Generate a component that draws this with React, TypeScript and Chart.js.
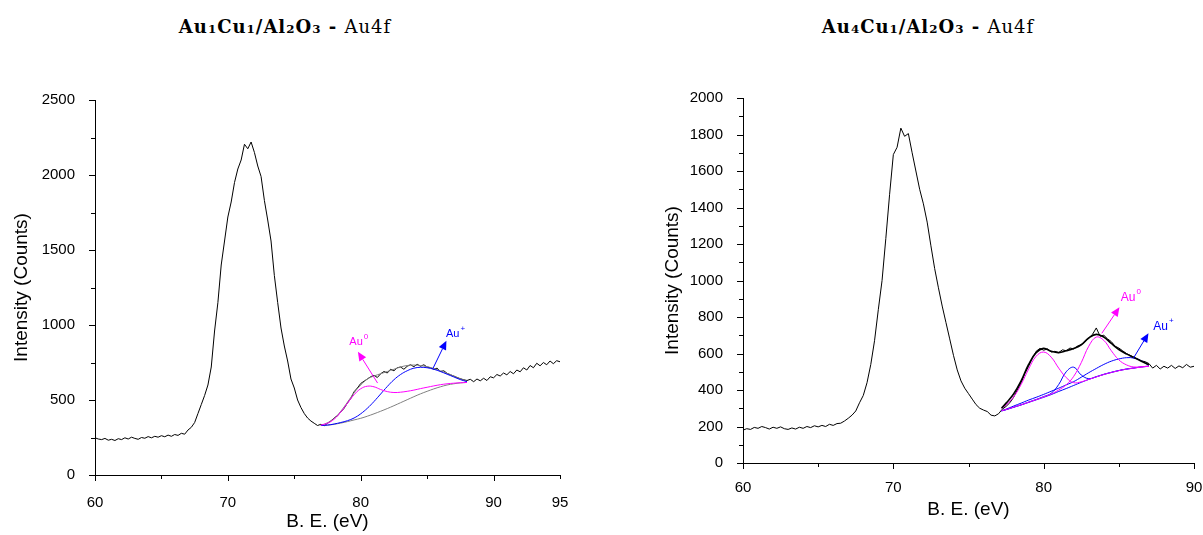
import React, { useEffect, useRef } from "react";
import { Chart, registerables } from "chart.js";

Chart.register(...registerables);
Chart.defaults.font.family = '"Liberation Sans", Arial, sans-serif';
Chart.defaults.color = "#000";

// ---------- Left panel: Au1Cu1/Al2O3 - Au4f ----------
const LEFT_START = 60;
const SPECTRUM_STEP = 0.25;
const LEFT_SPECTRUM = [
  248, 240, 236, 244,
  232, 238, 230, 242,
  236, 248, 240, 252,
  244, 238, 250, 245,
  256, 248, 258, 252,
  262, 255, 266, 258,
  270, 264, 278, 272,
  300, 318, 350, 410,
  470, 530, 600, 720,
  960, 1150, 1400, 1560,
  1720, 1820, 1950, 2040,
  2100, 2205, 2175, 2220,
  2150, 2060, 1990, 1830,
  1700, 1560, 1330, 1150,
  980, 860, 760, 640,
  580, 500, 450, 410,
  380, 360, 345, 330,
  338, 328, 345, 360,
  380, 395, 420, 445,
  480, 510, 555, 580,
  610, 625, 640, 655,
  665, 650, 675, 690,
  680, 705, 695, 715,
  720, 705, 725, 735,
  722, 738, 725, 735,
  720, 715, 705, 712,
  690, 695, 678, 668,
  660, 650, 642, 635,
  630, 638, 622, 640,
  628, 645, 630, 655,
  648, 670, 660, 680,
  668, 690, 675, 700,
  688, 715, 700, 730,
  715, 745, 728, 750,
  735, 760, 742, 762,
  755,
];
const LEFT_FIT_X = [77, 77.5, 78, 78.5, 79, 79.5, 80, 80.5, 81, 81.5, 82, 82.5, 83, 83.5, 84, 84.5, 85, 85.5, 86, 86.5, 87, 87.5, 88];
const LEFT_BASELINE = [330, 332, 338, 346, 356, 367, 378, 392, 408, 425, 443, 462, 482, 502, 522, 541, 558, 574, 588, 600, 608, 614, 617];
const LEFT_AU0 = [332, 345, 372, 420, 478, 535, 575, 592, 588, 570, 556, 550, 552, 558, 566, 576, 585, 594, 602, 608, 612, 615, 617];
const LEFT_AUPLUS = [330, 333, 340, 350, 362, 380, 408, 445, 490, 540, 590, 635, 670, 695, 712, 718, 715, 705, 690, 672, 654, 636, 622];
const LEFT_ENVELOPE = [332, 348, 378, 425, 485, 548, 600, 640, 660, 675, 690, 705, 720, 730, 733, 730, 722, 710, 695, 678, 660, 640, 625];

// ---------- Right panel: Au4Cu1/Al2O3 - Au4f ----------
const RIGHT_START = 60;
const RIGHT_SPECTRUM = [
  180, 188, 184, 195,
  190, 200, 194, 186,
  196, 190, 198, 188,
  184, 192, 186, 196,
  190, 200, 194, 204,
  198, 206, 200, 212,
  206, 216, 218, 230,
  245, 262, 285, 330,
  370, 440, 540, 670,
  840, 1000, 1230, 1470,
  1690, 1730, 1835, 1790,
  1805, 1700, 1600, 1500,
  1420, 1320, 1190, 1065,
  960, 860, 770, 680,
  590, 510, 450, 410,
  380, 350, 320, 300,
  290, 282, 262, 258,
  270, 295, 310, 330,
  360, 400, 440, 490,
  530, 575, 612, 628,
  618, 625, 608, 612,
  605, 620, 615, 630,
  625, 640, 648, 665,
  685, 705, 740, 695,
  700, 680, 665, 640,
  630, 615, 600, 590,
  580, 570, 560, 555,
  545, 520, 535, 515,
  530, 520, 535, 518,
  532, 522, 540, 525,
  530,
];
const RIGHT_FIT_X = [77.2, 77.5, 78, 78.5, 79, 79.5, 80, 80.5, 81, 81.5, 82, 82.5, 83, 83.5, 84, 84.5, 85, 85.5, 86, 86.5, 87];
const RIGHT_BASELINE = [285, 292, 305, 318, 332, 346, 360, 375, 392, 408, 425, 442, 458, 472, 485, 496, 506, 514, 520, 526, 530];
const RIGHT_AU0_A = [300, 318, 362, 430, 515, 585, 608, 580, 520, 468, 440, 445, 458, 472, 485, 496, 506, 514, 520, 526, 530];
const RIGHT_AU0_B = [286, 293, 306, 319, 333, 347, 362, 378, 400, 428, 475, 550, 640, 690, 672, 615, 565, 538, 526, 527, 531];
const RIGHT_AUPLUS_A = [286, 293, 306, 319, 334, 348, 364, 382, 430, 500, 525, 482, 462, 473, 486, 497, 507, 515, 521, 527, 531];
const RIGHT_AUPLUS_B = [286, 295, 312, 328, 345, 360, 376, 393, 410, 428, 446, 470, 495, 518, 540, 558, 570, 577, 575, 560, 535];
const RIGHT_ENVELOPE = [300, 328, 378, 450, 540, 605, 628, 612, 605, 615, 628, 648, 685, 705, 690, 655, 622, 598, 578, 558, 538];

// ---------- Text ----------
const LEFT_TITLE = [["Au", "1"], ["Cu", "1"], ["/Al", "2"], ["O", "3"]];
const RIGHT_TITLE = [["Au", "4"], ["Cu", "1"], ["/Al", "2"], ["O", "3"]];
const TITLE_SUFFIX = "Au4f";
const X_TITLE = "B. E. (eV)";
const Y_TITLE = "Intensity (Counts)";

const MAGENTA = "#ff00ff";
const BLUE = "#0000ff";
const GREY = "#808080";
const BLACK = "#000000";

type Note = { text: string; sup: string; color: string; tail: number[]; tip: number[]; label: number[]; size: number };

const LEFT_NOTES: Note[] = [
  { text: "Au", sup: "0", color: MAGENTA, tail: [81.27, 613], tip: [79.79, 822], label: [79.65, 887], size: 11 },
  { text: "Au", sup: "+", color: BLUE, tail: [85.44, 711], tip: [86.45, 895], label: [86.92, 940], size: 11 },
];
const RIGHT_NOTES: Note[] = [
  { text: "Au", sup: "0", color: MAGENTA, tail: [83.87, 711], tip: [85.04, 853], label: [85.62, 907], size: 12 },
  { text: "Au", sup: "+", color: BLUE, tail: [85.97, 574], tip: [86.97, 711], label: [87.78, 747], size: 12 },
];

const seq = (start: number, step: number, ys: number[]) =>
  ys.map((y, i) => ({ x: Math.round((start + i * step) * 100) / 100, y }));
const zip = (xs: number[], ys: number[]) => xs.map((x, i) => ({ x, y: ys[i] }));

const decorPlugin = {
  id: "decor",
  afterDatasetsDraw(chart: any, _args: any, opts: any) {
    const { ctx, chartArea: a, scales } = chart;
    const xs = scales.x;
    const ys = scales.y;
    ctx.save();
    ctx.strokeStyle = "#000";
    ctx.lineWidth = 1;
    const nx = Math.round((opts.xMax - opts.xMin) / opts.xMinor);
    const rx = Math.round(opts.xMajor / opts.xMinor);
    for (let i = 0; i <= nx; i++) {
      const v = opts.xMin + i * opts.xMinor;
      const px = Math.round(xs.getPixelForValue(v)) + 0.5;
      const len = i % rx === 0 ? 6 : 4;
      ctx.beginPath();
      ctx.moveTo(px, a.bottom);
      ctx.lineTo(px, a.bottom + len);
      ctx.stroke();
    }
    const ny = Math.round((opts.yMax - opts.yMin) / opts.yMinor);
    const ry = Math.round(opts.yMajor / opts.yMinor);
    for (let i = 0; i <= ny; i++) {
      const v = opts.yMin + i * opts.yMinor;
      const py = Math.round(ys.getPixelForValue(v)) + 0.5;
      const len = i % ry === 0 ? 6 : 4;
      ctx.beginPath();
      ctx.moveTo(a.left, py);
      ctx.lineTo(a.left - len, py);
      ctx.stroke();
    }
    for (const n of opts.notes as Note[]) {
      const x0 = xs.getPixelForValue(n.tail[0]);
      const y0 = ys.getPixelForValue(n.tail[1]);
      const x1 = xs.getPixelForValue(n.tip[0]);
      const y1 = ys.getPixelForValue(n.tip[1]);
      const ang = Math.atan2(y1 - y0, x1 - x0);
      const hl = 9;
      const hw = 4;
      const bx = x1 - hl * Math.cos(ang);
      const by = y1 - hl * Math.sin(ang);
      ctx.strokeStyle = n.color;
      ctx.fillStyle = n.color;
      ctx.lineWidth = 1;
      ctx.beginPath();
      ctx.moveTo(x0, y0);
      ctx.lineTo(bx, by);
      ctx.stroke();
      ctx.beginPath();
      ctx.moveTo(x1, y1);
      ctx.lineTo(bx + hw * Math.sin(ang), by - hw * Math.cos(ang));
      ctx.lineTo(bx - hw * Math.sin(ang), by + hw * Math.cos(ang));
      ctx.closePath();
      ctx.fill();
      const lx = xs.getPixelForValue(n.label[0]);
      const ly = ys.getPixelForValue(n.label[1]);
      ctx.font = `${n.size}px "Liberation Sans", Arial, sans-serif`;
      ctx.textBaseline = "middle";
      ctx.textAlign = "left";
      const w = ctx.measureText(n.text).width;
      ctx.fillText(n.text, lx - w / 2, ly);
      ctx.font = `${Math.round(n.size * 0.7)}px "Liberation Sans", Arial, sans-serif`;
      ctx.fillText(n.sup, lx + w / 2 + 1, ly - n.size * 0.45);
    }
    ctx.restore();
  },
};

type PanelOpts = {
  datasets: any[];
  xMin: number; xMax: number; xMajor: number; xMinor: number;
  yMin: number; yMax: number; yMajor: number; yMinor: number;
  padding: { left: number; right: number; top: number; bottom: number };
  yWidth: number; xHeight: number; xTickPad: number; yTickPad: number;
  notes: Note[];
};

function buildConfig(p: PanelOpts): any {
  return {
    type: "line",
    data: { datasets: p.datasets },
    options: {
      responsive: false,
      animation: false,
      events: [],
      layout: { padding: p.padding },
      elements: { point: { radius: 0 }, line: { borderWidth: 1 } },
      plugins: {
        legend: { display: false },
        tooltip: { enabled: false },
        decor: {
          xMin: p.xMin, xMax: p.xMax, xMajor: p.xMajor, xMinor: p.xMinor,
          yMin: p.yMin, yMax: p.yMax, yMajor: p.yMajor, yMinor: p.yMinor,
          notes: p.notes,
        },
      },
      scales: {
        x: {
          type: "linear",
          min: p.xMin,
          max: p.xMax,
          grid: { display: false },
          border: { display: true, color: "#000", width: 1 },
          ticks: {
            stepSize: p.xMajor,
            color: "#000",
            font: { size: 15 },
            padding: p.xTickPad,
            maxRotation: 0,
            autoSkip: false,
            callback: (v: any) => String(v),
          },
          title: { display: true, text: X_TITLE, color: "#000", font: { size: 19 }, padding: { top: 0, bottom: 2 } },
          afterFit: (s: any) => {
            s.height = p.xHeight;
            s.paddingLeft = 0;
            s.paddingRight = 0;
          },
        },
        y: {
          type: "linear",
          min: p.yMin,
          max: p.yMax,
          grid: { display: false },
          border: { display: true, color: "#000", width: 1 },
          ticks: {
            stepSize: p.yMajor,
            color: "#000",
            font: { size: 15 },
            padding: p.yTickPad,
            autoSkip: false,
            callback: (v: any) => String(v),
          },
          title: { display: true, text: Y_TITLE, color: "#000", font: { size: 19 }, padding: { top: 4, bottom: 0 } },
          afterFit: (s: any) => {
            s.width = p.yWidth;
            s.paddingTop = 0;
            s.paddingBottom = 0;
          },
        },
      },
    },
    plugins: [decorPlugin],
  };
}

const line = (data: any[], color: string, order: number, width = 1, tension = 0.4) => ({
  data,
  borderColor: color,
  backgroundColor: color,
  borderWidth: width,
  pointRadius: 0,
  tension,
  fill: false,
  order,
});

const leftConfig = () =>
  buildConfig({
    datasets: [
      line(seq(LEFT_START, SPECTRUM_STEP, LEFT_SPECTRUM), BLACK, 9, 1, 0),
      line(zip(LEFT_FIT_X, LEFT_BASELINE), GREY, 4),
      line(zip(LEFT_FIT_X, LEFT_ENVELOPE), GREY, 3),
      line(zip(LEFT_FIT_X, LEFT_AUPLUS), BLUE, 2),
      line(zip(LEFT_FIT_X, LEFT_AU0), MAGENTA, 1),
    ],
    xMin: 60, xMax: 95, xMajor: 10, xMinor: 5,
    yMin: 0, yMax: 2500, yMajor: 500, yMinor: 250,
    padding: { left: 6, right: 40, top: 100, bottom: 0 },
    yWidth: 89, xHeight: 60, xTickPad: 11, yTickPad: 12,
    notes: LEFT_NOTES,
  });

const rightConfig = () =>
  buildConfig({
    datasets: [
      line(seq(RIGHT_START, SPECTRUM_STEP, RIGHT_SPECTRUM), BLACK, 9, 1, 0),
      line(zip(RIGHT_FIT_X, RIGHT_BASELINE), BLUE, 5),
      line(zip(RIGHT_FIT_X, RIGHT_AUPLUS_A), BLUE, 4),
      line(zip(RIGHT_FIT_X, RIGHT_AUPLUS_B), BLUE, 3),
      line(zip(RIGHT_FIT_X, RIGHT_AU0_A), MAGENTA, 2),
      line(zip(RIGHT_FIT_X, RIGHT_AU0_B), MAGENTA, 1),
      line(zip(RIGHT_FIT_X, RIGHT_ENVELOPE), BLACK, 0, 1.6),
    ],
    xMin: 60, xMax: 90, xMajor: 10, xMinor: 5,
    yMin: 0, yMax: 2000, yMajor: 200, yMinor: 100,
    padding: { left: 57, right: 9, top: 98, bottom: 12 },
    yWidth: 86, xHeight: 60, xTickPad: 8, yTickPad: 12,
    notes: RIGHT_NOTES,
  });

function ChartCanvas({ make, left, width }: { make: () => any; left: number; width: number }) {
  const ref = useRef<HTMLCanvasElement>(null);
  useEffect(() => {
    const chart = new Chart(ref.current as HTMLCanvasElement, make());
    return () => chart.destroy();
  }, [make]);
  return (
    <canvas
      ref={ref}
      width={width}
      height={535}
      style={{ position: "absolute", left, top: 0, width, height: 535 }}
    />
  );
}

function Title({ parts, center }: { parts: string[][]; center: number }) {
  return (
    <div
      style={{
        position: "absolute",
        left: center - 300,
        top: 14,
        width: 600,
        textAlign: "center",
        fontFamily: '"DejaVu Serif", "Liberation Serif", serif',
        fontSize: 18,
        letterSpacing: "1px",
        lineHeight: "26px",
        color: "#000",
        whiteSpace: "nowrap",
      }}
    >
      <b>
        {parts.map(([a, s], i) => (
          <React.Fragment key={i}>
            {a}
            <span style={{ fontSize: "0.66em" }}>{s}</span>
          </React.Fragment>
        ))}
        {" - "}
      </b>
      {TITLE_SUFFIX}
    </div>
  );
}

export default function App() {
  return (
    <div
      style={{
        position: "absolute",
        left: 0,
        top: 0,
        width: 1203,
        height: 535,
        overflow: "hidden",
        background: "#fff",
      }}
    >
      <Title parts={LEFT_TITLE} center={285} />
      <Title parts={RIGHT_TITLE} center={928} />
      <ChartCanvas make={leftConfig} left={0} width={600} />
      <ChartCanvas make={rightConfig} left={600} width={603} />
    </div>
  );
}
